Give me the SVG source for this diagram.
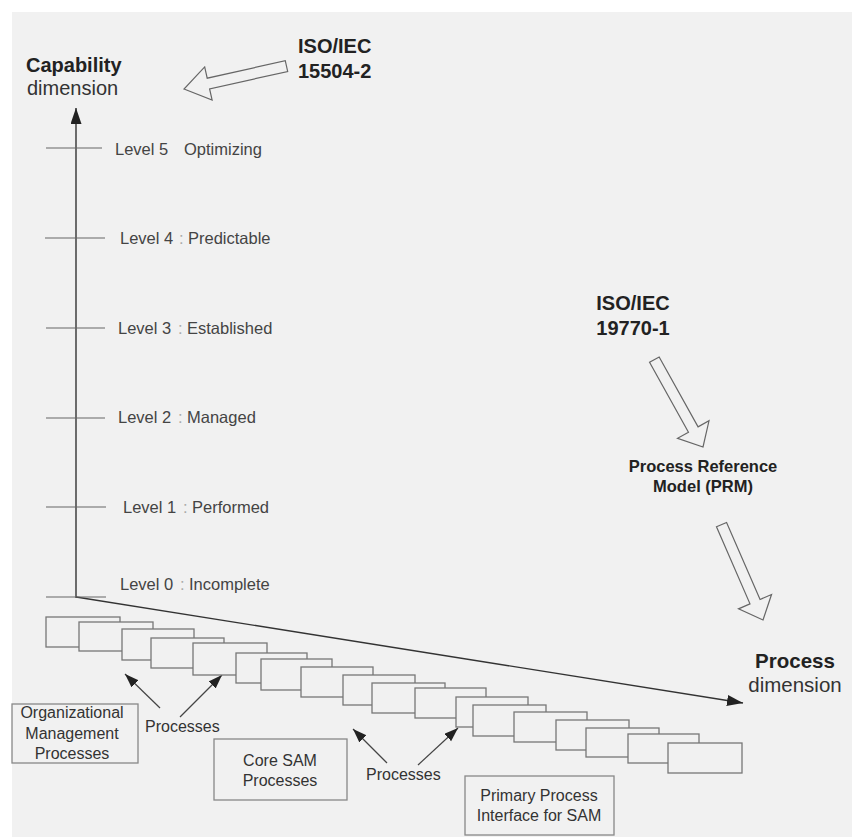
<svg xmlns="http://www.w3.org/2000/svg" width="852" height="837" viewBox="0 0 852 837">
<style>
text{font-family:"Liberation Sans",Arial,sans-serif;fill:#333}
.b{font-weight:bold;fill:#222}
.lvl{font-size:16.5px;fill:#444}
.col{fill:#aaa}
.reg{font-size:16px}
.box{fill:#f1f1f1;stroke:#777;stroke-width:1.3}
.lbl{fill:#f1f1f1;stroke:#888;stroke-width:1.3}
.tick{stroke:#666;stroke-width:1.2}
.axis{stroke:#333;stroke-width:1.4;fill:none}
.ptr{stroke:#444;stroke-width:1.2;fill:none}
.hollow{fill:#f1f1f1;stroke:#666;stroke-width:1.2}
</style>
<defs>
<marker id="ah" markerUnits="userSpaceOnUse" markerWidth="18" markerHeight="12" refX="16" refY="5.5" orient="auto">
<path d="M0,0 L16,5.5 L0,11 z" fill="#222"/>
</marker>
<marker id="ph" markerUnits="userSpaceOnUse" markerWidth="16" markerHeight="12" refX="14" refY="5" orient="auto">
<path d="M0,0 L14,5 L0,10 z" fill="#222"/>
</marker>
</defs>
<rect x="0" y="0" width="852" height="837" fill="#ffffff"/>
<rect x="12" y="12" width="840" height="825" fill="#f1f1f1"/>

<g id="connectors">
<line class="axis" x1="76" y1="598" x2="76" y2="108" marker-end="url(#ah)"/>
<line class="axis" x1="76" y1="597" x2="743" y2="703" marker-end="url(#ah)"/>
<line class="ptr" x1="160" y1="708" x2="125" y2="674" marker-end="url(#ph)"/>
<line class="ptr" x1="180" y1="717" x2="222" y2="675" marker-end="url(#ph)"/>
<line class="ptr" x1="387" y1="763" x2="353" y2="729" marker-end="url(#ph)"/>
<line class="ptr" x1="418" y1="765" x2="458" y2="728" marker-end="url(#ph)"/>
</g>

<g id="ticks">
<line class="tick" x1="46" y1="148" x2="102" y2="148"/>
<line class="tick" x1="45" y1="238" x2="105" y2="238"/>
<line class="tick" x1="46" y1="328" x2="105" y2="328"/>
<line class="tick" x1="46" y1="418" x2="105" y2="418"/>
<line class="tick" x1="46" y1="507" x2="106" y2="507"/>
<line class="tick" x1="46" y1="597" x2="106" y2="597"/>
</g>

<g id="axis-labels">
<text class="b" x="26" y="72" font-size="20">Capability</text>
<text x="27" y="95" font-size="20">dimension</text>
<text class="b" x="795" y="668" font-size="20.5" text-anchor="middle">Process</text>
<text x="795" y="692" font-size="20.5" text-anchor="middle">dimension</text>
</g>

<g id="levels">
<text class="lvl" y="155"><tspan x="115">Level 5</tspan><tspan x="184">Optimizing</tspan></text>
<text class="lvl" y="244"><tspan x="120">Level 4</tspan><tspan class="col" x="179">:</tspan><tspan x="188">Predictable</tspan></text>
<text class="lvl" y="334"><tspan x="118">Level 3</tspan><tspan class="col" x="178">:</tspan><tspan x="187">Established</tspan></text>
<text class="lvl" y="423"><tspan x="118">Level 2</tspan><tspan class="col" x="178">:</tspan><tspan x="187">Managed</tspan></text>
<text class="lvl" y="513"><tspan x="123">Level 1</tspan><tspan class="col" x="183">:</tspan><tspan x="192">Performed</tspan></text>
<text class="lvl" y="590"><tspan x="120">Level 0</tspan><tspan class="col" x="180">:</tspan><tspan x="189">Incomplete</tspan></text>
</g>

<g id="iso15504">
<text class="b" x="298" y="53" font-size="20">ISO/IEC</text>
<text class="b" x="298" y="78" font-size="20">15504-2</text>
<polygon class="hollow" transform="translate(184,89) rotate(167.4)" points="0,0 -25,-17 -25,-5.5 -105,-5.5 -105,5.5 -25,5.5 -25,17"/>
</g>

<g id="iso19770">
<text class="b" x="633" y="310" font-size="20" text-anchor="middle">ISO/IEC</text>
<text class="b" x="633" y="335" font-size="20" text-anchor="middle">19770-1</text>
<polygon class="hollow" transform="translate(703,447) rotate(60.9)" points="0,0 -20,-18 -20,-5.5 -100,-5.5 -100,5.5 -20,5.5 -20,18"/>
</g>

<g id="prm">
<text class="b" x="703" y="472" font-size="16.5" text-anchor="middle">Process Reference</text>
<text class="b" x="703" y="492" font-size="16.5" text-anchor="middle">Model (PRM)</text>
<polygon class="hollow" transform="translate(763,620) rotate(66.5)" points="0,0 -20,-18 -20,-5.5 -104,-5.5 -104,5.5 -20,5.5 -20,18"/>
</g>

<g id="process-boxes">
<rect class="box" x="46" y="617" width="74" height="30"/>
<rect class="box" x="79" y="622" width="74" height="29"/>
<rect class="box" x="122" y="629" width="72" height="31"/>
<rect class="box" x="151" y="638" width="73" height="30"/>
<rect class="box" x="193" y="643" width="74" height="32"/>
<rect class="box" x="236" y="653" width="71" height="30"/>
<rect class="box" x="261" y="659" width="71" height="31"/>
<rect class="box" x="301" y="667" width="72" height="30"/>
<rect class="box" x="343" y="675" width="72" height="30"/>
<rect class="box" x="372" y="683" width="73" height="30"/>
<rect class="box" x="415" y="688" width="71" height="30"/>
<rect class="box" x="456" y="697" width="72" height="30"/>
<rect class="box" x="473" y="705" width="73" height="31"/>
<rect class="box" x="514" y="712" width="73" height="30"/>
<rect class="box" x="556" y="720" width="73" height="30"/>
<rect class="box" x="586" y="728" width="73" height="29"/>
<rect class="box" x="628" y="734" width="71" height="29"/>
<rect class="box" x="668" y="743" width="74" height="30"/>
</g>

<g id="processes-label-1">
<text class="reg" x="145" y="732">Processes</text>
</g>
<g id="processes-label-2">
<text class="reg" x="366" y="780">Processes</text>
</g>

<g id="org-mgmt">
<rect class="lbl" x="12" y="704" width="126" height="59"/>
<text class="reg" x="72" y="718" text-anchor="middle">Organizational</text>
<text class="reg" x="72" y="739" text-anchor="middle">Management</text>
<text class="reg" x="72" y="759" text-anchor="middle">Processes</text>
</g>

<g id="core-sam">
<rect class="lbl" x="214" y="739" width="133" height="61"/>
<text class="reg" x="280" y="766" text-anchor="middle">Core SAM</text>
<text class="reg" x="280" y="786" text-anchor="middle">Processes</text>
</g>

<g id="primary-interface">
<rect class="lbl" x="465" y="776" width="149" height="59"/>
<text class="reg" x="539" y="801" text-anchor="middle">Primary Process</text>
<text class="reg" x="539" y="821" text-anchor="middle">Interface for SAM</text>
</g>
</svg>
